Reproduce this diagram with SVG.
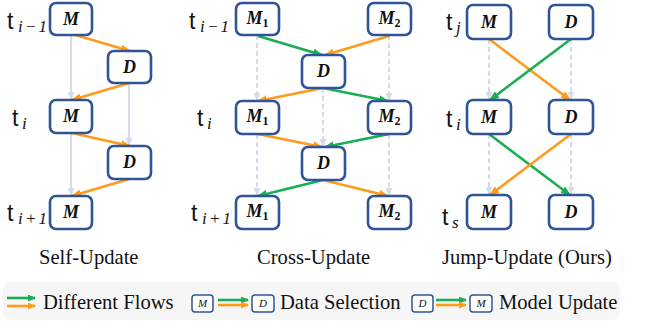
<svg xmlns="http://www.w3.org/2000/svg" width="645" height="327" viewBox="0 0 645 327">
<style>
.box{fill:#fff;stroke:#2F5597;stroke-width:2.6}
.sbox{fill:#fff;stroke:#2F5597;stroke-width:1.5}
.lbl{font-family:"Liberation Serif",serif;font-style:italic;font-weight:bold;font-size:18px;fill:#111;text-anchor:middle}
.sub{font-style:normal;font-size:12px}
.slbl{font-family:"Liberation Serif",serif;font-style:italic;font-size:11px;fill:#111;text-anchor:middle}
.t{font-family:"Liberation Sans",sans-serif;font-size:23px;fill:#111}
.ts{font-family:"Liberation Serif",serif;font-style:italic;font-size:17px;fill:#111}
.title{font-family:"Liberation Serif",serif;font-size:20.6px;fill:#111}
.or{stroke:#FF9A1A;stroke-width:2.6;fill:none;marker-end:url(#ao)}
.gr{stroke:#1AAE54;stroke-width:2.6;fill:none;marker-end:url(#ag)}
.gy{stroke:#D6DCE5;stroke-width:2;fill:none;marker-end:url(#ay)}
.gyd{stroke:#D6DCE5;stroke-width:2;fill:none;stroke-dasharray:5 3;marker-end:url(#ay)}
.lor{stroke:#FF9A1A;stroke-width:2.6;fill:none;marker-end:url(#lo)}
.lgr{stroke:#1AAE54;stroke-width:2.6;fill:none;marker-end:url(#lg)}
</style>
<defs>
<marker id="ao" markerUnits="userSpaceOnUse" markerWidth="10" markerHeight="8" refX="9" refY="4" orient="auto"><path d="M0,0 L10,4 L0,8 z" fill="#FF9A1A"/></marker>
<marker id="ag" markerUnits="userSpaceOnUse" markerWidth="10" markerHeight="8" refX="9" refY="4" orient="auto"><path d="M0,0 L10,4 L0,8 z" fill="#1AAE54"/></marker>
<marker id="ay" markerUnits="userSpaceOnUse" markerWidth="8" markerHeight="7" refX="7" refY="3.5" orient="auto"><path d="M0,0 L8,3.5 L0,7 z" fill="#D6DCE5"/></marker>
<marker id="lo" markerUnits="userSpaceOnUse" markerWidth="8" markerHeight="7" refX="7" refY="3.5" orient="auto"><path d="M0,0 L8,3.5 L0,7 z" fill="#FF9A1A"/></marker>
<marker id="lg" markerUnits="userSpaceOnUse" markerWidth="8" markerHeight="7" refX="7" refY="3.5" orient="auto"><path d="M0,0 L8,3.5 L0,7 z" fill="#1AAE54"/></marker>
</defs>
<rect width="645" height="327" fill="#fff"/>

<g id="connectors">
<line class="gy" x1="71" y1="35" x2="71" y2="99"/>
<line class="gy" x1="71" y1="133" x2="71" y2="195"/>
<line class="gy" x1="129" y1="83" x2="129" y2="145"/>
<line class="or" x1="72" y1="34" x2="130" y2="51"/>
<line class="or" x1="129" y1="83" x2="72" y2="100"/>
<line class="or" x1="72" y1="133" x2="130" y2="146"/>
<line class="or" x1="129" y1="179" x2="72" y2="196"/>
<line class="gyd" x1="257" y1="35" x2="257" y2="100"/>
<line class="gyd" x1="389" y1="35" x2="389" y2="100"/>
<line class="gyd" x1="323" y1="88" x2="323" y2="146"/>
<line class="gyd" x1="257" y1="134" x2="257" y2="195"/>
<line class="gyd" x1="389" y1="134" x2="389" y2="195"/>
<line class="gr" x1="258" y1="36" x2="322" y2="55"/>
<line class="or" x1="389" y1="36" x2="325" y2="55"/>
<line class="or" x1="323" y1="88" x2="258" y2="101"/>
<line class="gr" x1="323" y1="88" x2="388" y2="101"/>
<line class="or" x1="258" y1="134" x2="322" y2="147"/>
<line class="gr" x1="389" y1="134" x2="325" y2="147"/>
<line class="gr" x1="323" y1="180" x2="258" y2="196"/>
<line class="or" x1="323" y1="180" x2="388" y2="196"/>
<line class="gyd" x1="489" y1="39" x2="489" y2="99"/>
<line class="gyd" x1="571" y1="39" x2="571" y2="99"/>
<line class="gyd" x1="489" y1="134" x2="489" y2="194"/>
<line class="gyd" x1="571" y1="134" x2="571" y2="194"/>
<line class="or" x1="489" y1="39" x2="570" y2="100"/>
<line class="gr" x1="571" y1="39" x2="490" y2="100"/>
<line class="gr" x1="489" y1="134" x2="570" y2="195"/>
<line class="or" x1="571" y1="134" x2="490" y2="195"/>
</g>

<g id="self-M1"><rect class="box" x="50" y="3" width="42" height="32" rx="6"/><text class="lbl" x="71" y="25">M</text></g>
<g id="self-D1"><rect class="box" x="108" y="51" width="43" height="32" rx="6"/><text class="lbl" x="129.5" y="73">D</text></g>
<g id="self-M2"><rect class="box" x="50" y="100" width="42" height="33" rx="6"/><text class="lbl" x="71" y="122">M</text></g>
<g id="self-D2"><rect class="box" x="108" y="146" width="43" height="33" rx="6"/><text class="lbl" x="129.5" y="168">D</text></g>
<g id="self-M3"><rect class="box" x="50" y="196" width="42" height="33" rx="6"/><text class="lbl" x="71" y="218">M</text></g>

<g id="cross-M1a"><rect class="box" x="236" y="3" width="43" height="32" rx="6"/><text class="lbl" x="257.5" y="24">M<tspan class="sub" dy="3">1</tspan></text></g>
<g id="cross-M2a"><rect class="box" x="368" y="3" width="43" height="32" rx="6"/><text class="lbl" x="389.5" y="24">M<tspan class="sub" dy="3">2</tspan></text></g>
<g id="cross-D1"><rect class="box" x="302" y="55" width="43" height="33" rx="6"/><text class="lbl" x="323.5" y="77">D</text></g>
<g id="cross-M1b"><rect class="box" x="236" y="101" width="43" height="33" rx="6"/><text class="lbl" x="257.5" y="122">M<tspan class="sub" dy="3">1</tspan></text></g>
<g id="cross-M2b"><rect class="box" x="368" y="101" width="43" height="33" rx="6"/><text class="lbl" x="389.5" y="122">M<tspan class="sub" dy="3">2</tspan></text></g>
<g id="cross-D2"><rect class="box" x="302" y="147" width="43" height="33" rx="6"/><text class="lbl" x="323.5" y="169">D</text></g>
<g id="cross-M1c"><rect class="box" x="236" y="196" width="43" height="33" rx="6"/><text class="lbl" x="257.5" y="217">M<tspan class="sub" dy="3">1</tspan></text></g>
<g id="cross-M2c"><rect class="box" x="368" y="196" width="43" height="33" rx="6"/><text class="lbl" x="389.5" y="217">M<tspan class="sub" dy="3">2</tspan></text></g>

<g id="jump-M1"><rect class="box" x="467" y="5" width="44" height="34" rx="6"/><text class="lbl" x="489" y="28">M</text></g>
<g id="jump-D1"><rect class="box" x="549" y="5" width="44" height="34" rx="6"/><text class="lbl" x="571" y="28">D</text></g>
<g id="jump-M2"><rect class="box" x="467" y="100" width="44" height="34" rx="6"/><text class="lbl" x="489" y="123">M</text></g>
<g id="jump-D2"><rect class="box" x="549" y="100" width="44" height="34" rx="6"/><text class="lbl" x="571" y="123">D</text></g>
<g id="jump-M3"><rect class="box" x="467" y="195" width="44" height="34" rx="6"/><text class="lbl" x="489" y="218">M</text></g>
<g id="jump-D3"><rect class="box" x="549" y="195" width="44" height="34" rx="6"/><text class="lbl" x="571" y="218">D</text></g>

<g id="time-labels">
<text class="t" x="7" y="29">t</text><text class="ts" x="18" y="32" textLength="29" lengthAdjust="spacing">i−1</text>
<text class="t" x="12" y="126">t</text><text class="ts" x="22" y="129">i</text>
<text class="t" x="7" y="221">t</text><text class="ts" x="18" y="224" textLength="29" lengthAdjust="spacing">i+1</text>
<text class="t" x="189" y="29">t</text><text class="ts" x="200" y="32" textLength="29" lengthAdjust="spacing">i−1</text>
<text class="t" x="197" y="126">t</text><text class="ts" x="207" y="129">i</text>
<text class="t" x="191" y="221">t</text><text class="ts" x="202" y="224" textLength="29" lengthAdjust="spacing">i+1</text>
<text class="t" x="446" y="30">t</text><text class="ts" x="456" y="33">j</text>
<text class="t" x="446" y="127">t</text><text class="ts" x="456" y="130">i</text>
<text class="t" x="442" y="225">t</text><text class="ts" x="452" y="228">s</text>
</g>

<g id="titles">
<text class="title" x="39" y="264">Self-Update</text>
<text class="title" x="257" y="264">Cross-Update</text>
<text class="title" x="442" y="264">Jump-Update (Ours)</text>
</g>

<g id="legend">
<rect x="3" y="282" width="617" height="38" rx="8" fill="#F6F6F6"/>
<line class="lgr" x1="7" y1="298" x2="35" y2="298"/>
<line class="lor" x1="7" y1="306" x2="35" y2="306"/>
<text class="title" x="43" y="309">Different Flows</text>
<rect class="sbox" x="192" y="295" width="21" height="17" rx="3"/><text class="slbl" x="202.5" y="307">M</text>
<line class="lgr" x1="218" y1="300" x2="248" y2="300"/>
<line class="lor" x1="218" y1="305" x2="248" y2="305"/>
<rect class="sbox" x="252" y="295" width="22" height="17" rx="3"/><text class="slbl" x="263" y="307">D</text>
<text class="title" x="280" y="309">Data Selection</text>
<rect class="sbox" x="412" y="295" width="21" height="17" rx="3"/><text class="slbl" x="422.5" y="307">D</text>
<line class="lgr" x1="436" y1="300" x2="466" y2="300"/>
<line class="lor" x1="436" y1="305" x2="466" y2="305"/>
<rect class="sbox" x="470" y="295" width="22" height="17" rx="3"/><text class="slbl" x="481" y="307">M</text>
<text class="title" x="499" y="309">Model Update</text>
</g>
</svg>
